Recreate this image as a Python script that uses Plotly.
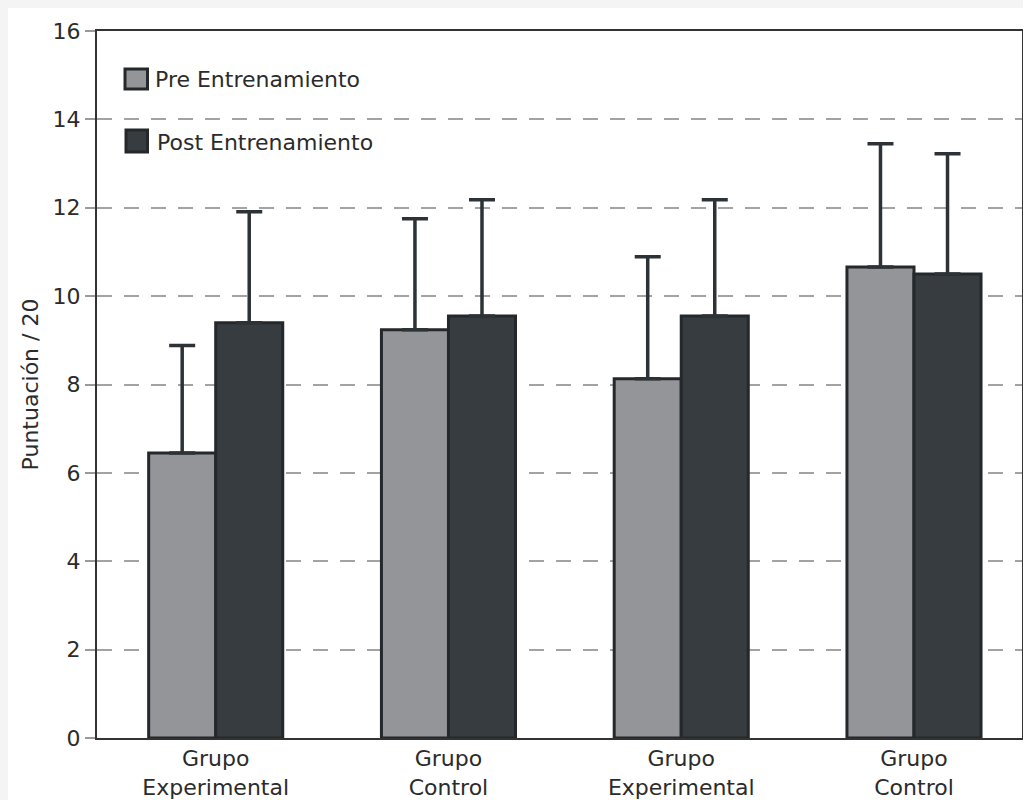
import plotly.graph_objects as go

# ---- data ----
categories = ["Grupo<br>Experimental", "Grupo<br>Control", "Grupo<br>Experimental", "Grupo<br>Control"]
pre_mean = [6.45, 9.24, 8.13, 10.66]
pre_sd = [2.43, 2.51, 2.76, 2.79]
post_mean = [9.40, 9.55, 9.55, 10.50]
post_sd = [2.51, 2.63, 2.63, 2.72]
series_names = ["Pre Entrenamiento", "Post Entrenamiento"]
y_ticks = [0, 2, 4, 6, 8, 10, 12, 14, 16]

x_pos = list(range(len(categories)))

PRE_COL = "#939599"
POST_COL = "#363c40"
EDGE = "#24282b"
FONT = "DejaVu Sans"
TXT = "#2b2b2b"
FS = 22

fig = go.Figure()
for name, vals, sd, col in [(series_names[0], pre_mean, pre_sd, PRE_COL),
                            (series_names[1], post_mean, post_sd, POST_COL)]:
    fig.add_trace(go.Bar(
        x=x_pos, y=vals, name=name, showlegend=False,
        marker=dict(color=col, line=dict(color=EDGE, width=3)),
        error_y=dict(type="data", symmetric=False, array=sd,
                     arrayminus=[0] * len(sd), color="#2c3236",
                     thickness=3.5, width=13),
    ))

L, R, T, B = 97, 1, 31, 62
W, H = 1023, 800
pw, ph = W - L - R, H - T - B


def px(x):
    return (x - L) / pw


def py(y):
    return (H - B - y) / ph


shapes = [
    # white panel over the light grey page background
    dict(type="rect", xref="paper", yref="paper", layer="below",
         x0=px(8), x1=px(1030), y0=py(810), y1=py(8),
         fillcolor="white", line=dict(width=0)),
]
annotations = []
legend_items = [
    (series_names[0], PRE_COL, 125, 147.5, 69, 89, 153, 79),
    (series_names[1], POST_COL, 126, 147.5, 130, 152, 155, 142),
]
for name, col, x0, x1, y0, y1, tx, ty in legend_items:
    shapes.append(dict(type="rect", xref="paper", yref="paper",
                       x0=px(x0), x1=px(x1), y0=py(y1), y1=py(y0),
                       fillcolor=col, line=dict(color=EDGE, width=3)))
    annotations.append(dict(xref="paper", yref="paper", x=px(tx), y=py(ty),
                            text=name, showarrow=False, xanchor="left",
                            yanchor="middle",
                            font=dict(family=FONT, size=FS, color=TXT)))

fig.update_layout(
    width=W, height=H,
    margin=dict(l=L, r=R, t=T, b=B, autoexpand=False),
    paper_bgcolor="#f4f4f4",
    plot_bgcolor="white",
    barmode="group",
    bargap=0.424,
    bargroupgap=0,
    font=dict(family=FONT, size=FS, color=TXT),
    shapes=shapes,
    annotations=annotations,
    xaxis=dict(
        range=[-0.51, 3.464], tickvals=x_pos, ticktext=categories,
        showgrid=False, zeroline=False, ticks="",
        showline=True, linecolor="#333333", linewidth=2, mirror=True,
        tickfont=dict(family=FONT, size=FS, color=TXT),
    ),
    yaxis=dict(
        range=[0, 16], tickvals=y_ticks,
        showgrid=True, gridcolor="#a3a3a3", gridwidth=2, griddash="15px,12px",
        zeroline=False,
        showline=True, linecolor="#333333", linewidth=2, mirror=True,
        ticks="outside", ticklen=10, tickcolor="#9a9a9a", tickwidth=1.5,
        tickfont=dict(family=FONT, size=FS, color=TXT),
        title=dict(text="Puntuación / 20", standoff=8,
                   font=dict(family=FONT, size=FS, color=TXT)),
    ),
)

fig.write_html("out.html")
